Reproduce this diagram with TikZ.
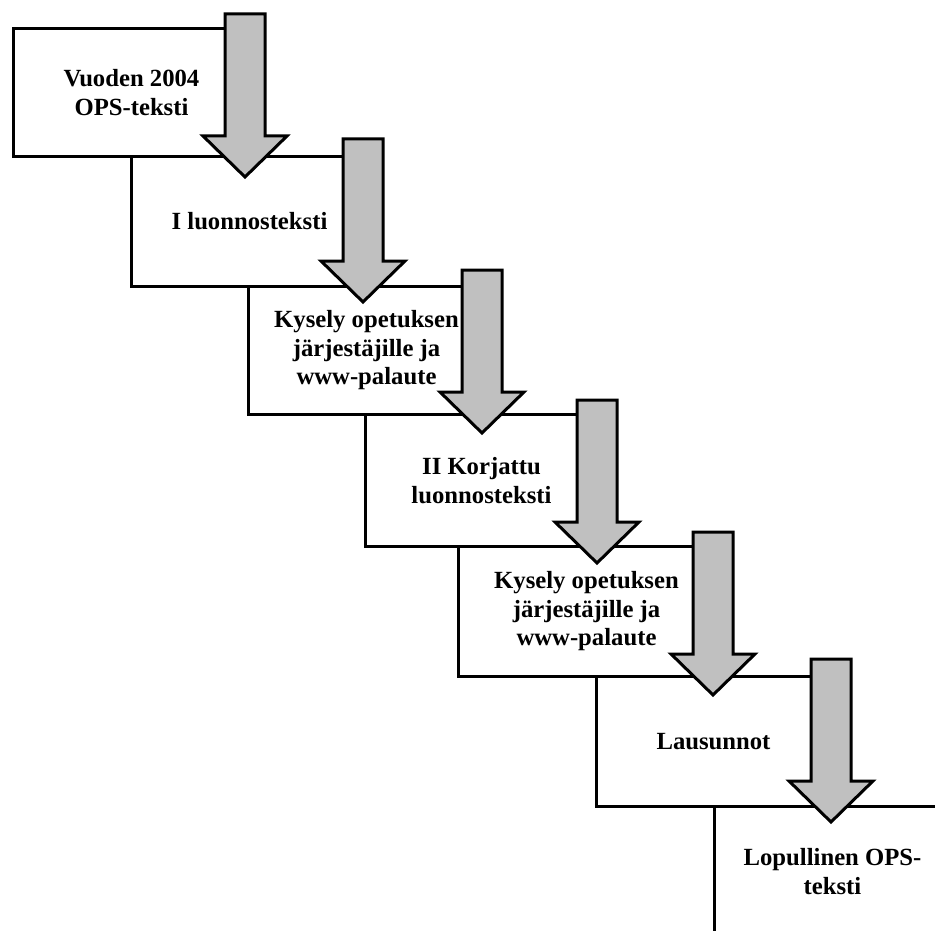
\documentclass[tikz,border=0pt]{standalone}
\usepackage{fontspec}
\setmainfont{Liberation Serif}
\definecolor{arrgray}{RGB}{192,192,192}
\tikzset{
  stepbox/.style={draw=black, fill=white, line width=3pt, rectangle, anchor=north west,
    align=center, inner sep=0pt, font=\bfseries\fontsize{24.7}{28.5}\selectfont},
  blockarr/.style={draw=black, fill=arrgray, line width=3pt, line join=miter}
}
\newcommand\downblockarrow[2]{%
  \draw[blockarr] (#1-20,#2) -- (#1+20,#2) -- (#1+20,#2+122) -- (#1+42,#2+122)
    -- (#1,#2+163) -- (#1-42,#2+122) -- (#1-20,#2+122) -- cycle;}
\begin{document}
\begin{tikzpicture}[x=1pt,y=-1pt]
\useasboundingbox (0,0) rectangle (935,931);
\fill[white] (0,0) rectangle (935,931);
\clip (0,0) rectangle (935,931);
\node[stepbox, minimum width=236pt, minimum height=128pt] (b1) at (12,27) {Vuoden 2004\\OPS-teksti};
\node[stepbox, minimum width=236pt, minimum height=130pt] (b2) at (130,155) {I luonnosteksti};
\node[stepbox, minimum width=236pt, minimum height=128pt] (b3) at (247,285) {Kysely opetuksen\\järjestäjille ja\\www-palaute};
\node[stepbox, minimum width=232pt, minimum height=132pt] (b4) at (364,413) {II Korjattu\\luonnosteksti};
\node[stepbox, minimum width=256pt, minimum height=130pt] (b5) at (457,545) {Kysely opetuksen\\järjestäjille ja\\www-palaute};
\node[stepbox, minimum width=234pt, minimum height=130pt] (b6) at (595,675) {Lausunnot};
\node[stepbox, minimum width=236pt, minimum height=130pt] (b7) at (713,805) {Lopullinen OPS-\\teksti};
\downblockarrow{245}{14}
\downblockarrow{363}{139}
\downblockarrow{482}{270}
\downblockarrow{597}{400}
\downblockarrow{713}{532}
\downblockarrow{831}{659}
\end{tikzpicture}
\end{document}
